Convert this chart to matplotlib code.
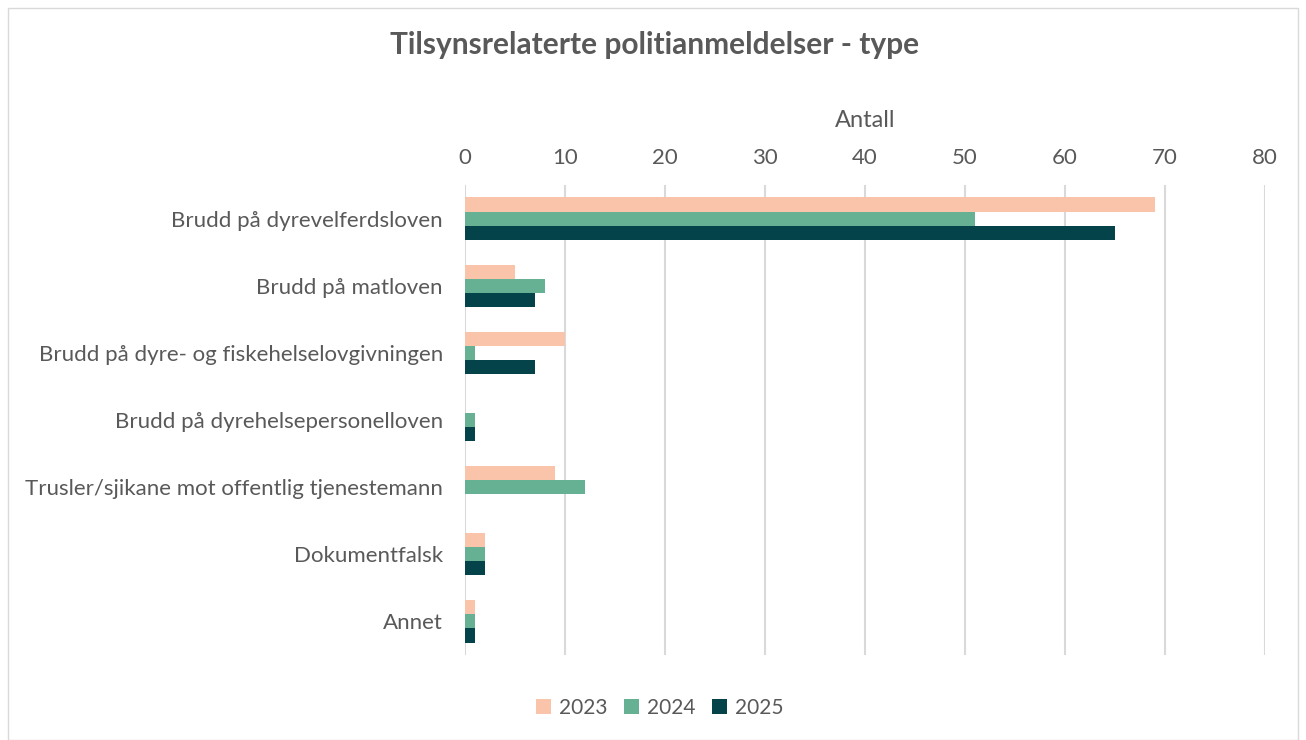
import matplotlib
matplotlib.use("Agg")
import matplotlib.pyplot as plt
import numpy as np
from matplotlib.patches import Rectangle

categories = ["Brudd på dyrevelferdsloven", "Brudd på matloven",
              "Brudd på dyre- og fiskehelselovgivningen", "Brudd på dyrehelsepersonelloven",
              "Trusler/sjikane mot offentlig tjenestemann", "Dokumentfalsk", "Annet"]
years = ["2023", "2024", "2025"]
v2023 = [69, 5, 10, 0, 9, 2, 1]
v2024 = [51, 8, 1, 1, 12, 2, 1]
v2025 = [65, 7, 7, 1, 0, 2, 1]
colors = ["#F9C4A9", "#66B194", "#04434A"]
xticks = [0, 10, 20, 30, 40, 50, 60, 70, 80]

plt.rcParams['font.family'] = ['Lato', 'DejaVu Sans']
txt = "#595959"

fig = plt.figure(figsize=(13.06, 7.40), dpi=100)
W, H = 1306, 740
ax = fig.add_axes([465 / W, 1 - 655 / H, 800 / W, 470 / H])

n = len(categories)
y = np.arange(n)
bh = 0.21
for i, (vals, c, lab) in enumerate(zip([v2023, v2024, v2025], colors, years)):
    ax.barh(y + (i - 1) * bh, vals, height=bh, color=c, label=lab, zorder=3)

ax.set_ylim(n - 0.5, -0.5)
ax.set_xlim(0, 80)
ax.set_xticks(xticks)
ax.xaxis.tick_top()
ax.xaxis.set_label_position("top")
ax.set_xlabel("Antall", fontsize=17, color=txt, labelpad=15)
ax.set_yticks(y)
ax.set_yticklabels(categories)
ax.tick_params(axis='both', length=0, labelsize=16, colors=txt)
ax.tick_params(axis='x', pad=12)
ax.tick_params(axis='y', pad=16)
ax.grid(axis='x', color="#D9D9D9", linewidth=1.5, zorder=0)
for s in ax.spines.values():
    s.set_visible(False)

fig.text(655 / W, 1 - 45 / H, "Tilsynsrelaterte politianmeldelser - type", ha='center', va='center',
         fontsize=21.5, fontweight='bold', color=txt)

leg = fig.legend(loc='center', bbox_to_anchor=(660 / W, 1 - 708 / H), ncol=3, frameon=False,
                 fontsize=15, handlelength=0.7, handleheight=0.7, columnspacing=0.8, handletextpad=0.4)
for t in leg.get_texts():
    t.set_color(txt)

fig.patches.append(Rectangle((8 / W, 0.0), 1290 / W, 1 - 8 / H, transform=fig.transFigure,
                             fill=False, edgecolor="#D9D9D9", linewidth=1))

fig.savefig("out.png", dpi=100)
